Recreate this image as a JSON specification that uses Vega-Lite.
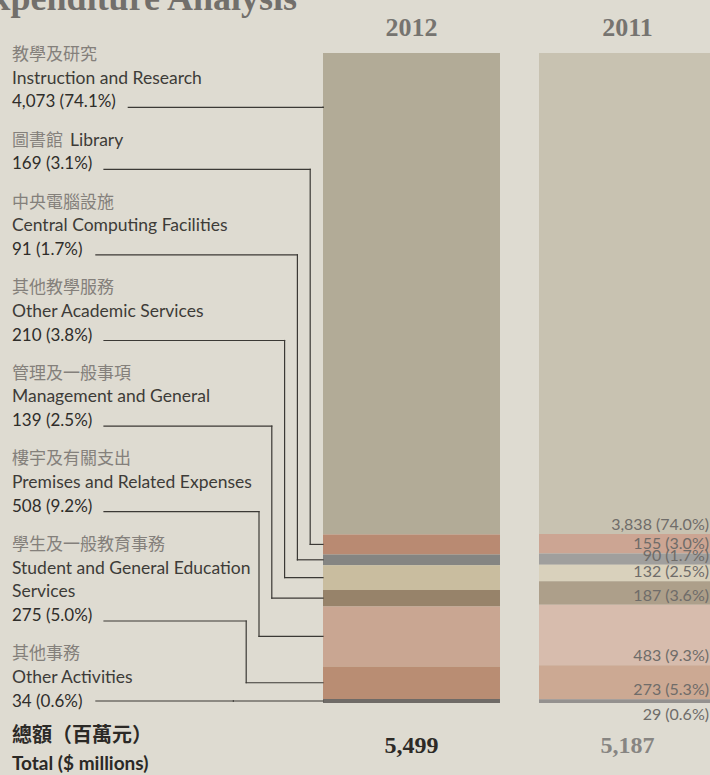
{
  "$schema": "https://vega.github.io/schema/vega-lite/v6.json",
  "width": 710,
  "height": 775,
  "autosize": {"type": "none"},
  "padding": 0,
  "background": "#dedbd1",
  "config": {"view": {"stroke": null}, "axis": {"disable": true}, "legend": {"disable": true}},
  "datasets": {
    "expenditure": [
      {"year": "2012", "order": 1, "zh": "教學及研究", "en": "Instruction and Research", "value": 4073, "pct": 74.1},
      {"year": "2012", "order": 2, "zh": "圖書館", "en": "Library", "value": 169, "pct": 3.1},
      {"year": "2012", "order": 3, "zh": "中央電腦設施", "en": "Central Computing Facilities", "value": 91, "pct": 1.7},
      {"year": "2012", "order": 4, "zh": "其他教學服務", "en": "Other Academic Services", "value": 210, "pct": 3.8},
      {"year": "2012", "order": 5, "zh": "管理及一般事項", "en": "Management and General", "value": 139, "pct": 2.5},
      {"year": "2012", "order": 6, "zh": "樓宇及有關支出", "en": "Premises and Related Expenses", "value": 508, "pct": 9.2},
      {"year": "2012", "order": 7, "zh": "學生及一般教育事務", "en": "Student and General Education\nServices", "value": 275, "pct": 5.0},
      {"year": "2012", "order": 8, "zh": "其他事務", "en": "Other Activities", "value": 34, "pct": 0.6},
      {"year": "2011", "order": 1, "zh": "教學及研究", "en": "Instruction and Research", "value": 3838, "pct": 74.0},
      {"year": "2011", "order": 2, "zh": "圖書館", "en": "Library", "value": 155, "pct": 3.0},
      {"year": "2011", "order": 3, "zh": "中央電腦設施", "en": "Central Computing Facilities", "value": 90, "pct": 1.7},
      {"year": "2011", "order": 4, "zh": "其他教學服務", "en": "Other Academic Services", "value": 132, "pct": 2.5},
      {"year": "2011", "order": 5, "zh": "管理及一般事項", "en": "Management and General", "value": 187, "pct": 3.6},
      {"year": "2011", "order": 6, "zh": "樓宇及有關支出", "en": "Premises and Related Expenses", "value": 483, "pct": 9.3},
      {"year": "2011", "order": 7, "zh": "學生及一般教育事務", "en": "Student and General Education\nServices", "value": 273, "pct": 5.3},
      {"year": "2011", "order": 8, "zh": "其他事務", "en": "Other Activities", "value": 29, "pct": 0.6}
    ]
  },
  "data": {"name": "expenditure"},
  "transform": [
    {"stack": "value", "groupby": ["year"], "sort": [{"field": "order", "order": "ascending"}], "offset": "normalize", "as": ["y0", "y1"]},
    {"calculate": "datum.year + ' ' + datum.order", "as": "key"},
    {"calculate": "format(datum.value, ',') + ' (' + format(datum.pct, '.1f') + '%)'", "as": "label"}
  ],
  "resolve": {"scale": {"x": "independent"}},
  "layer": [
    {
      "encoding": {
        "x": {"field": "year", "type": "nominal", "scale": {"domain": ["2012", "2011"], "range": [323, 716], "paddingInner": 0.1806, "paddingOuter": 0}}
      },
      "layer": [
        {
          "mark": {"type": "bar"},
          "encoding": {
            "y": {"field": "y0", "type": "quantitative", "scale": {"domain": [-0.08154, 1.11077], "reverse": true, "nice": false, "zero": false}},
            "y2": {"field": "y1"},
            "color": {"field": "key", "type": "nominal", "scale": {
              "domain": ["2012 1", "2012 2", "2012 3", "2012 4", "2012 5", "2012 6", "2012 7", "2012 8", "2011 1", "2011 2", "2011 3", "2011 4", "2011 5", "2011 6", "2011 7", "2011 8"],
              "range": ["#b2ab97", "#b98a72", "#858582", "#c9bd9f", "#97836a", "#c9a692", "#b98d73", "#6f6b67", "#c8c2b1", "#cca593", "#a09f9d", "#d9d1bc", "#ad9f8a", "#d7bcad", "#cca993", "#94918f"]}}
          }
        },
        {
          "transform": [{"filter": "datum.order == 1"}],
          "mark": {"type": "text", "font": "Liberation Serif", "fontWeight": "bold", "fontSize": 26, "color": "#767470", "baseline": "middle", "align": "center"},
          "encoding": {
            "text": {"field": "year"},
            "y": {"datum": -0.0385, "type": "quantitative", "scale": {"domain": [-0.08154, 1.11077], "reverse": true, "nice": false, "zero": false}}
          }
        },
        {
          "transform": [
            {"joinaggregate": [{"op": "sum", "field": "value", "as": "total"}], "groupby": ["year"]},
            {"filter": "datum.order == 1"},
            {"calculate": "format(datum.total, ',')", "as": "totalLabel"}
          ],
          "mark": {"type": "text", "font": "Liberation Serif", "fontWeight": "bold", "fontSize": 24, "baseline": "middle", "align": "center"},
          "encoding": {
            "text": {"field": "totalLabel"},
            "color": {"condition": {"test": "datum.year == '2012'", "value": "#2d2a27"}, "value": "#878582"},
            "y": {"datum": 1.0669, "type": "quantitative", "scale": {"domain": [-0.08154, 1.11077], "reverse": true, "nice": false, "zero": false}}
          }
        },
        {
          "transform": [{"filter": "datum.year == '2011' && datum.order < 8"}],
          "mark": {"type": "text", "font": "Lato", "fontSize": 16, "color": "#6f6c69", "align": "right", "baseline": "alphabetic", "dx": -7, "dy": -4},
          "encoding": {
            "text": {"field": "label"},
            "x": {"field": "year", "type": "nominal", "bandPosition": 1, "scale": {"domain": ["2012", "2011"], "range": [323, 716], "paddingInner": 0.1806, "paddingOuter": 0}},
            "y": {"field": "y1", "type": "quantitative", "scale": {"domain": [-0.08154, 1.11077], "reverse": true, "nice": false, "zero": false}}
          }
        },
        {
          "transform": [{"filter": "datum.year == '2011' && datum.order == 8"}],
          "mark": {"type": "text", "font": "Lato", "fontSize": 16, "color": "#6f6c69", "align": "right", "baseline": "top", "dx": -7, "dy": 4},
          "encoding": {
            "text": {"field": "label"},
            "x": {"field": "year", "type": "nominal", "bandPosition": 1, "scale": {"domain": ["2012", "2011"], "range": [323, 716], "paddingInner": 0.1806, "paddingOuter": 0}},
            "y": {"field": "y1", "type": "quantitative", "scale": {"domain": [-0.08154, 1.11077], "reverse": true, "nice": false, "zero": false}}
          }
        }
      ]
    },
    {
      "transform": [
        {"filter": "datum.year == '2012'"},
        {"calculate": "length(datum.zh) + length(datum.en) <= 12", "as": "inline"},
        {"calculate": "length(split(datum.en, '\\n'))", "as": "enl"},
        {"calculate": "datum.inline ? 2 : 2 + datum.enl", "as": "nl"},
        {"window": [{"op": "row_number", "as": "rn"}, {"op": "sum", "field": "nl", "as": "cum"}], "sort": [{"field": "order", "order": "ascending"}], "frame": [null, 0]},
        {"calculate": "datum.rn - 1", "as": "b"},
        {"calculate": "datum.cum - datum.nl", "as": "L"},
        {"calculate": "(2 + 23.7 * datum.L + 14.5 * datum.b) / 650", "as": "zy"},
        {"calculate": "datum.inline ? datum.zy : datum.zy + 23.7 / 650", "as": "ecy"},
        {"calculate": "datum.inline ? 24.3 - (length(datum.zh) * 17 + 7) / 12.8 : 24.3", "as": "ex"},
        {"calculate": "datum.zy + 23.7 * (datum.nl - 1) / 650", "as": "vy"},
        {"calculate": "(datum.y0 + datum.y1) / 2", "as": "my"},
        {"calculate": "abs(datum.vy + 5 / 650 - datum.my) < 0.015 ? datum.my : datum.vy + 5 / 650", "as": "hy"},
        {"calculate": "(datum.hy >= datum.y0 && datum.hy <= datum.y1) ? datum.hy : datum.my", "as": "ty"},
        {"calculate": "24.3 - 0.633 * length(datum.label) - 0.86", "as": "xs"}
      ],
      "layer": [
        {
          "mark": {"type": "rule", "color": "#3b3935", "strokeWidth": 1.2, "strokeCap": "square"},
          "encoding": {
            "x": {"field": "xs", "type": "quantitative", "scale": {"domain": [-30.234, 25.234], "reverse": true, "nice": false, "zero": false}},
            "x2": {"field": "b"},
            "y": {"field": "hy", "type": "quantitative", "scale": {"domain": [-0.08154, 1.11077], "reverse": true, "nice": false, "zero": false}}
          }
        },
        {
          "mark": {"type": "rule", "color": "#3b3935", "strokeWidth": 1.2, "strokeCap": "square"},
          "encoding": {
            "x": {"field": "b", "type": "quantitative", "scale": {"domain": [-30.234, 25.234], "reverse": true, "nice": false, "zero": false}},
            "y": {"field": "hy", "type": "quantitative", "scale": {"domain": [-0.08154, 1.11077], "reverse": true, "nice": false, "zero": false}},
            "y2": {"field": "ty"}
          }
        },
        {
          "mark": {"type": "rule", "color": "#3b3935", "strokeWidth": 1.2, "strokeCap": "square"},
          "encoding": {
            "x": {"field": "b", "type": "quantitative", "scale": {"domain": [-30.234, 25.234], "reverse": true, "nice": false, "zero": false}},
            "x2": {"datum": 0},
            "y": {"field": "ty", "type": "quantitative", "scale": {"domain": [-0.08154, 1.11077], "reverse": true, "nice": false, "zero": false}}
          }
        },
        {
          "mark": {"type": "text", "font": "Noto Sans CJK TC", "fontSize": 17, "color": "#84807b", "align": "left", "baseline": "middle"},
          "encoding": {
            "text": {"field": "zh"},
            "x": {"datum": 24.3, "type": "quantitative", "scale": {"domain": [-30.234, 25.234], "reverse": true, "nice": false, "zero": false}},
            "y": {"field": "zy", "type": "quantitative", "scale": {"domain": [-0.08154, 1.11077], "reverse": true, "nice": false, "zero": false}}
          }
        },
        {
          "mark": {"type": "text", "font": "Lato", "fontSize": 17.5, "color": "#3d3b38", "align": "left", "baseline": "middle", "lineBreak": "\n", "lineHeight": 23.7},
          "encoding": {
            "text": {"field": "en"},
            "x": {"field": "ex", "type": "quantitative", "scale": {"domain": [-30.234, 25.234], "reverse": true, "nice": false, "zero": false}},
            "y": {"field": "ecy", "type": "quantitative", "scale": {"domain": [-0.08154, 1.11077], "reverse": true, "nice": false, "zero": false}}
          }
        },
        {
          "mark": {"type": "text", "font": "Lato", "fontSize": 17, "color": "#2f2d2a", "align": "left", "baseline": "middle"},
          "encoding": {
            "text": {"field": "label"},
            "x": {"datum": 24.3, "type": "quantitative", "scale": {"domain": [-30.234, 25.234], "reverse": true, "nice": false, "zero": false}},
            "y": {"field": "vy", "type": "quantitative", "scale": {"domain": [-0.08154, 1.11077], "reverse": true, "nice": false, "zero": false}}
          }
        },
        {
          "transform": [{"filter": "datum.order == 1"}],
          "mark": {"type": "text", "font": "Liberation Serif", "fontWeight": "bold", "fontSize": 36, "color": "#726f6b", "align": "right", "baseline": "alphabetic"},
          "encoding": {
            "text": {"value": "Expenditure Analysis"},
            "x": {"datum": 2.03, "type": "quantitative", "scale": {"domain": [-30.234, 25.234], "reverse": true, "nice": false, "zero": false}},
            "y": {"datum": -0.0662, "type": "quantitative", "scale": {"domain": [-0.08154, 1.11077], "reverse": true, "nice": false, "zero": false}}
          }
        },
        {
          "transform": [{"filter": "datum.order == 1"}],
          "mark": {"type": "text", "font": "Noto Sans CJK TC", "fontWeight": "bold", "fontSize": 20, "color": "#2b2926", "align": "left", "baseline": "middle"},
          "encoding": {
            "text": {"value": "總額（百萬元）"},
            "x": {"datum": 24.3, "type": "quantitative", "scale": {"domain": [-30.234, 25.234], "reverse": true, "nice": false, "zero": false}},
            "y": {"datum": 1.0508, "type": "quantitative", "scale": {"domain": [-0.08154, 1.11077], "reverse": true, "nice": false, "zero": false}}
          }
        },
        {
          "transform": [{"filter": "datum.order == 1"}],
          "mark": {"type": "text", "font": "Lato", "fontWeight": "bold", "fontSize": 19, "color": "#2b2926", "align": "left", "baseline": "middle"},
          "encoding": {
            "text": {"value": "Total ($ millions)"},
            "x": {"datum": 24.3, "type": "quantitative", "scale": {"domain": [-30.234, 25.234], "reverse": true, "nice": false, "zero": false}},
            "y": {"datum": 1.0938, "type": "quantitative", "scale": {"domain": [-0.08154, 1.11077], "reverse": true, "nice": false, "zero": false}}
          }
        }
      ]
    }
  ]
}
